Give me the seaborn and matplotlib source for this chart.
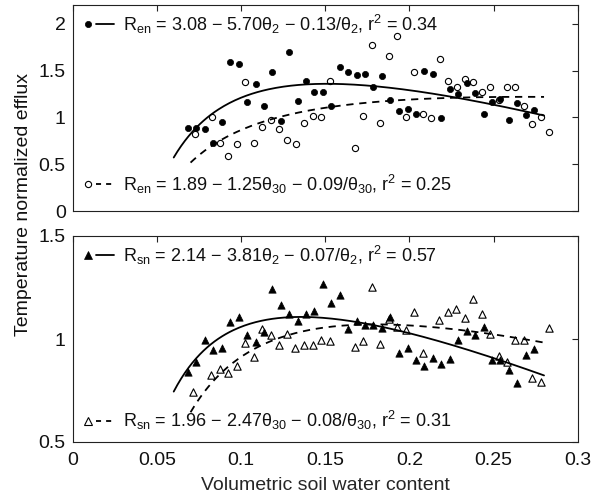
import numpy as np
import pandas as pd
import matplotlib
matplotlib.use("Agg")
import matplotlib.pyplot as plt
import seaborn as sns
from matplotlib.lines import Line2D
from matplotlib.legend_handler import HandlerTuple

# ---------------- data ----------------
# top panel: respiration (en), filled = theta_2, open = theta_30
en2_x = [0.0683, 0.0733, 0.0784, 0.0835, 0.0885, 0.0934, 0.0986, 0.1035, 0.1087, 0.1136,
         0.1186, 0.1237, 0.1287, 0.1337, 0.1386, 0.1436, 0.1485, 0.1537, 0.1588, 0.1637,
         0.1687, 0.1737, 0.1786, 0.1837, 0.1887, 0.1940, 0.1990, 0.2039, 0.2089, 0.2139,
         0.2190, 0.2240, 0.2289, 0.2341, 0.2390, 0.2442, 0.2491, 0.2540, 0.2590, 0.2640,
         0.2691, 0.2740]
en2_y = [0.891, 0.891, 0.880, 0.724, 0.952, 1.590, 1.569, 1.163, 1.358, 1.120,
         1.483, 0.966, 1.693, 1.180, 1.387, 1.273, 1.273, 1.120, 1.533, 1.483,
         1.455, 1.462, 1.319, 1.444, 1.187, 1.066, 1.091, 1.037, 1.494, 1.462,
         0.998, 1.308, 1.251, 1.366, 1.265, 1.037, 1.166, 1.195, 0.970, 1.158,
         1.024, 1.077]
en30_x = [0.0725, 0.0826, 0.0875, 0.0925, 0.0976, 0.1025, 0.1077, 0.1126, 0.1176, 0.1226,
          0.1275, 0.1325, 0.1376, 0.1426, 0.1477, 0.1527, 0.1677, 0.1726, 0.1778, 0.1827,
          0.1879, 0.1928, 0.1978, 0.2028, 0.2079, 0.2129, 0.2180, 0.2230, 0.2281, 0.2331,
          0.2380, 0.2432, 0.2481, 0.2531, 0.2580, 0.2629, 0.2681, 0.2730, 0.2780, 0.2831]
en30_y = [0.820, 1.002, 0.724, 0.585, 0.713, 1.383, 0.727, 0.902, 0.973, 0.877,
          0.759, 0.720, 0.938, 1.019, 1.009, 1.390, 0.677, 1.016, 1.775, 0.941,
          1.658, 1.864, 1.009, 1.483, 1.037, 0.991, 1.626, 1.390, 1.329, 1.412,
          1.380, 1.269, 1.319, 1.187, 1.323, 1.323, 1.123, 0.930, 1.005, 0.848]

# bottom panel: (sn), filled = theta_2, open = theta_30
sn2_x = [0.0683, 0.0733, 0.0784, 0.0835, 0.0885, 0.0934, 0.0986, 0.1035, 0.1087, 0.1134,
         0.1186, 0.1237, 0.1287, 0.1337, 0.1386, 0.1436, 0.1485, 0.1537, 0.1588, 0.1637,
         0.1687, 0.1737, 0.1786, 0.1837, 0.1887, 0.1938, 0.1990, 0.2039, 0.2089, 0.2139,
         0.2190, 0.2240, 0.2289, 0.2341, 0.2390, 0.2442, 0.2491, 0.2540, 0.2590, 0.2641,
         0.2691, 0.2740]
sn2_y = [0.838, 0.888, 0.997, 0.948, 0.956, 1.084, 1.105, 1.018, 0.985, 1.032,
         1.244, 1.164, 1.121, 1.086, 1.121, 1.137, 1.267, 1.176, 1.215, 1.047,
         1.087, 1.068, 1.068, 1.052, 1.105, 0.930, 0.956, 0.898, 0.869, 0.908,
         0.877, 0.903, 0.995, 1.037, 1.021, 1.060, 0.898, 0.898, 0.850, 0.786,
         0.922, 0.950]
sn30_x = [0.0717, 0.0820, 0.0873, 0.0923, 0.0974, 0.1024, 0.1077, 0.1127, 0.1176, 0.1226,
          0.1275, 0.1322, 0.1376, 0.1426, 0.1475, 0.1527, 0.1677, 0.1726, 0.1778, 0.1827,
          0.1879, 0.1928, 0.1978, 0.2028, 0.2079, 0.2176, 0.2228, 0.2279, 0.2329, 0.2380,
          0.2430, 0.2481, 0.2531, 0.2580, 0.2629, 0.2679, 0.2729, 0.2780, 0.2831]
sn30_y = [0.744, 0.827, 0.854, 0.836, 0.869, 0.979, 0.911, 1.047, 1.019, 0.972,
          1.026, 0.956, 0.972, 0.972, 0.995, 0.992, 0.960, 0.990, 1.251, 0.974,
          1.095, 1.060, 1.044, 1.133, 0.934, 1.092, 1.130, 1.146, 1.100, 1.194,
          1.120, 1.024, 0.917, 0.890, 0.994, 0.994, 0.812, 0.790, 1.052]

# fitted models R = a - b*theta - c/theta  (coefficients from the chart labels)
fit_en2 = [3.08, 5.70, 0.13]
fit_en30 = [1.89, 1.25, 0.09]
fit_sn2 = [2.14, 3.81, 0.07]
fit_sn30 = [1.96, 2.47, 0.08]
fit_range_2 = [0.06, 0.28]
fit_range_30 = [0.07, 0.28]

label_en2 = 'R$_{\\mathregular{en}}$ = 3.08 − 5.70θ$_{\\mathregular{2}}$ − 0.13/θ$_{\\mathregular{2}}$, r$^{\\mathregular{2}}$ = 0.34'
label_en30 = 'R$_{\\mathregular{en}}$ = 1.89 − 1.25θ$_{\\mathregular{30}}$ − 0.09/θ$_{\\mathregular{30}}$, r$^{\\mathregular{2}}$ = 0.25'
label_sn2 = 'R$_{\\mathregular{sn}}$ = 2.14 − 3.81θ$_{\\mathregular{2}}$ − 0.07/θ$_{\\mathregular{2}}$, r$^{\\mathregular{2}}$ = 0.57'
label_sn30 = 'R$_{\\mathregular{sn}}$ = 1.96 − 2.47θ$_{\\mathregular{30}}$ − 0.08/θ$_{\\mathregular{30}}$, r$^{\\mathregular{2}}$ = 0.31'

x_ticks = [0, 0.05, 0.1, 0.15, 0.2, 0.25, 0.3]
x_ticklabels = ['0', '0.05', '0.1', '0.15', '0.2', '0.25', '0.3']
top_yticks = [0, 0.5, 1, 1.5, 2]
top_yticklabels = ['0', '0.5', '1', '1.5', '2']
bot_yticks = [0.5, 1, 1.5]
bot_yticklabels = ['0.5', '1', '1.5']

# ---------------- style ----------------
sns.set_style("white")
FONT = "Liberation Sans"
plt.rcParams['font.family'] = [FONT, 'DejaVu Sans']
plt.rcParams['mathtext.fontset'] = 'custom'
plt.rcParams['mathtext.rm'] = FONT
plt.rcParams['mathtext.it'] = FONT + ':italic'
plt.rcParams['mathtext.sf'] = FONT
plt.rcParams['text.color'] = '#111111'
FS = 14
LFS = 13

fig = plt.figure(figsize=(6.06, 5.0), dpi=100)
ax_top = fig.add_axes([0.1200, 0.578, 0.8333, 0.412])
ax_bot = fig.add_axes([0.1200, 0.116, 0.8333, 0.412])

LW = 1.3
DASH = (4, 3.2)


def fit_curve(params, rng):
    a, b, c = params
    th = np.linspace(rng[0], rng[1], 200)
    return pd.DataFrame({'x': th, 'y': a - b * th - c / th})


def draw_panel(ax, fx, fy, ox, oy, fparams, oparams, marker, msize, lab_f, lab_o, low_y):
    d_f = pd.DataFrame({'x': fx, 'y': fy})
    d_o = pd.DataFrame({'x': ox, 'y': oy})
    sns.scatterplot(data=d_o, x='x', y='y', ax=ax, marker=marker, s=msize,
                    color='white', edgecolor='black', linewidth=0.8, zorder=3)
    sns.scatterplot(data=d_f, x='x', y='y', ax=ax, marker=marker, s=msize,
                    color='black', edgecolor='black', linewidth=0.5, zorder=3)
    cf = fit_curve(fparams, fit_range_2)
    co = fit_curve(oparams, fit_range_30)
    sns.lineplot(data=cf, x='x', y='y', ax=ax, color='black', linewidth=LW,
                 sort=False, zorder=4)
    sns.lineplot(data=co, x='x', y='y', ax=ax, color='black', linewidth=LW,
                 sort=False, zorder=4, dashes=False, linestyle=(0, DASH))

    # legend entries (marker followed by line sample)
    ms = np.sqrt(msize)
    mk_f = Line2D([], [], linestyle='none', marker=marker, markersize=ms,
                  markerfacecolor='black', markeredgecolor='black', markeredgewidth=0.5)
    ln_f = Line2D([], [], color='black', linewidth=LW)
    mk_o = Line2D([], [], linestyle='none', marker=marker, markersize=ms,
                  markerfacecolor='white', markeredgecolor='black', markeredgewidth=0.8)
    ln_o = Line2D([], [], color='black', linewidth=LW, linestyle=(0, (2.8, 2.8)))
    common = dict(handler_map={tuple: HandlerTuple(ndivide=None, pad=0)},
                  frameon=False, fontsize=LFS, handlelength=1.95, handletextpad=0.5,
                  borderpad=0, borderaxespad=0, loc='center left', numpoints=1)
    leg1 = ax.legend(handles=[(mk_f, ln_f)], labels=[lab_f],
                     bbox_to_anchor=(0.012, 0.908), **common)
    ax.add_artist(leg1)
    ax.legend(handles=[(mk_o, ln_o)], labels=[lab_o],
              bbox_to_anchor=(0.012, low_y), **common)

    ax.set_xlim(0, 0.3)
    ax.set_xticks(x_ticks)
    ax.set_xlabel('')
    ax.set_ylabel('')
    for s in ax.spines.values():
        s.set_visible(True)
        s.set_linewidth(0.8)
        s.set_color('#222222')
    ax.tick_params(direction='in', length=4, width=0.8, top=True, right=True,
                   labelsize=FS, colors='#222222', labelcolor='#111111')
    ax.tick_params(axis='x', pad=7)
    ax.tick_params(axis='y', pad=5)


draw_panel(ax_top, en2_x, en2_y, en30_x, en30_y, fit_en2, fit_en30, 'o', 20,
           label_en2, label_en30, 0.13)
draw_panel(ax_bot, sn2_x, sn2_y, sn30_x, sn30_y, fit_sn2, fit_sn30, '^', 28,
           label_sn2, label_sn30, 0.105)

ax_top.set_ylim(0, 2.2)
ax_top.set_yticks(top_yticks)
ax_top.set_yticklabels(top_yticklabels)
ax_top.set_xticklabels([])

ax_bot.set_ylim(0.5, 1.5)
ax_bot.set_yticks(bot_yticks)
ax_bot.set_yticklabels(bot_yticklabels)
ax_bot.set_xticklabels(x_ticklabels)
ax_bot.set_xlabel('Volumetric soil water content', fontsize=FS, labelpad=6)

fig.text(0.038, 0.59, 'Temperature normalized efflux', rotation=90,
         ha='center', va='center', fontsize=FS)

fig.savefig('out.png', dpi=100)
